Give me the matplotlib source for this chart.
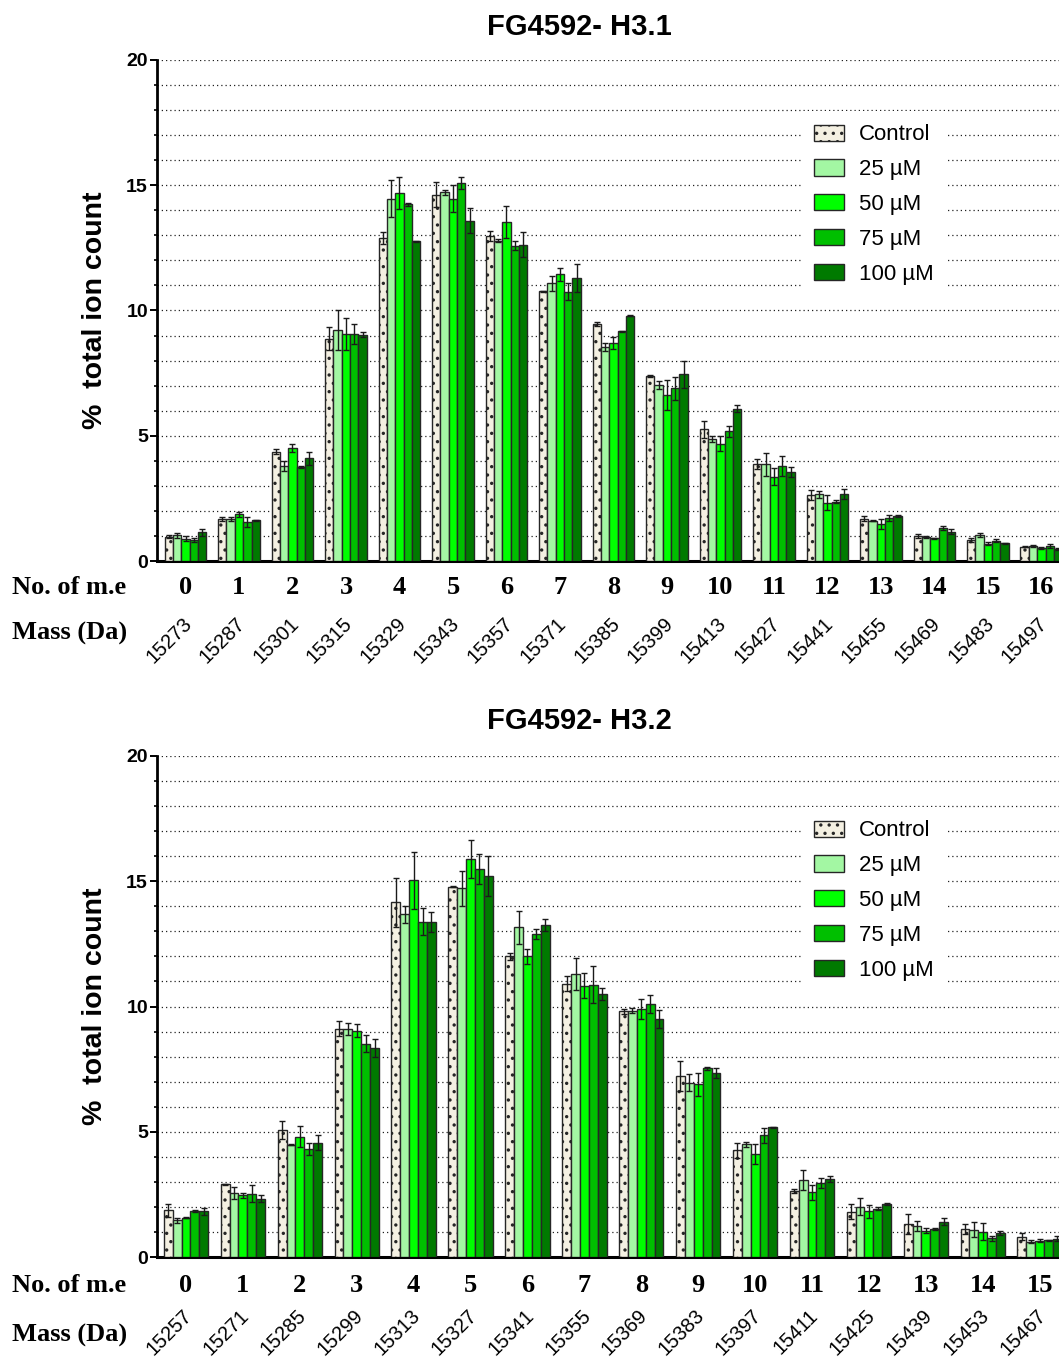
import numpy as np
import matplotlib
matplotlib.use("Agg")
import matplotlib.pyplot as plt
import matplotlib.transforms as mtransforms
from matplotlib.ticker import MultipleLocator

plt.rcParams["font.family"] = ["Liberation Sans", "DejaVu Sans"]
plt.rcParams["hatch.linewidth"] = 1.2

# ---------------- data ----------------
series_names = ["Control", "25 µM", "50 µM", "75 µM", "100 µM"]
series_colors = ["#f4f0e2", "#a3f7a3", "#00ff00", "#00bf00", "#007a00"]

# H3.1
h31_me = list(range(17))
h31_mass = ["15273", "15287", "15301", "15315", "15329", "15343", "15357", "15371",
            "15385", "15399", "15413", "15427", "15441", "15455", "15469", "15483", "15497"]
h31_control = [0.97, 1.69, 4.36, 8.88, 12.90, 14.63, 12.99, 10.76, 9.47, 7.39, 5.25, 3.86, 2.62, 1.68, 0.98, 0.84, 0.57]
h31_25 = [1.02, 1.68, 3.79, 9.22, 14.47, 14.72, 12.79, 11.08, 8.54, 7.02, 4.88, 3.86, 2.66, 1.61, 0.96, 1.03, 0.60]
h31_50 = [0.89, 1.86, 4.51, 9.07, 14.69, 14.47, 13.54, 11.44, 8.71, 6.62, 4.68, 3.37, 2.33, 1.48, 0.90, 0.69, 0.51]
h31_75 = [0.84, 1.57, 3.75, 9.07, 14.24, 15.09, 12.59, 10.75, 9.18, 6.89, 5.17, 3.81, 2.37, 1.70, 1.33, 0.81, 0.61]
h31_100 = [1.14, 1.62, 4.10, 9.04, 12.77, 13.59, 12.63, 11.30, 9.80, 7.45, 6.08, 3.57, 2.66, 1.80, 1.16, 0.70, 0.48]
h31_control_err = [0.07, 0.08, 0.10, 0.45, 0.25, 0.50, 0.20, 0.03, 0.07, 0.05, 0.35, 0.20, 0.20, 0.10, 0.08, 0.07, 0.03]
h31_25_err = [0.10, 0.08, 0.20, 0.80, 0.75, 0.10, 0.07, 0.30, 0.15, 0.15, 0.12, 0.45, 0.15, 0.03, 0.03, 0.07, 0.03]
h31_50_err = [0.10, 0.10, 0.15, 0.65, 0.65, 0.55, 0.65, 0.25, 0.25, 0.60, 0.30, 0.35, 0.30, 0.20, 0.02, 0.07, 0.05]
h31_75_err = [0.08, 0.20, 0.03, 0.40, 0.05, 0.25, 0.18, 0.35, 0.02, 0.45, 0.20, 0.40, 0.05, 0.12, 0.08, 0.05, 0.08]
h31_100_err = [0.15, 0.02, 0.25, 0.10, 0.02, 0.50, 0.50, 0.55, 0.02, 0.55, 0.15, 0.20, 0.20, 0.05, 0.10, 0.03, 0.05]

# H3.2
h32_me = list(range(16))
h32_mass = ["15257", "15271", "15285", "15299", "15313", "15327", "15341", "15355",
            "15369", "15383", "15397", "15411", "15425", "15439", "15453", "15467"]
h32_control = [1.86, 2.90, 5.07, 9.11, 14.16, 14.79, 12.00, 10.90, 9.82, 7.23, 4.27, 2.63, 1.80, 1.32, 1.13, 0.81]
h32_25 = [1.46, 2.55, 4.49, 9.11, 13.68, 14.72, 13.16, 11.30, 9.83, 6.96, 4.51, 3.07, 2.01, 1.24, 1.08, 0.61]
h32_50 = [1.57, 2.46, 4.81, 9.04, 15.03, 15.89, 12.00, 10.83, 9.89, 6.89, 4.11, 2.59, 1.82, 1.05, 1.01, 0.65]
h32_75 = [1.84, 2.53, 4.32, 8.52, 13.39, 15.49, 12.89, 10.87, 10.11, 7.53, 4.86, 2.94, 1.93, 1.11, 0.75, 0.66]
h32_100 = [1.82, 2.33, 4.57, 8.35, 13.36, 15.21, 13.25, 10.49, 9.50, 7.33, 5.18, 3.11, 2.12, 1.41, 0.95, 0.73]
h32_control_err = [0.25, 0.03, 0.35, 0.30, 0.97, 0.02, 0.15, 0.30, 0.10, 0.60, 0.30, 0.07, 0.30, 0.40, 0.20, 0.15]
h32_25_err = [0.10, 0.25, 0.02, 0.25, 0.35, 0.70, 0.65, 0.65, 0.10, 0.35, 0.10, 0.40, 0.35, 0.20, 0.30, 0.05]
h32_50_err = [0.03, 0.10, 0.40, 0.25, 1.15, 0.75, 0.30, 0.50, 0.40, 0.45, 0.40, 0.30, 0.25, 0.10, 0.35, 0.07]
h32_75_err = [0.05, 0.35, 0.25, 0.35, 0.55, 0.60, 0.20, 0.75, 0.35, 0.05, 0.30, 0.20, 0.05, 0.05, 0.10, 0.03]
h32_100_err = [0.15, 0.15, 0.30, 0.35, 0.40, 0.80, 0.25, 0.25, 0.35, 0.20, 0.02, 0.12, 0.05, 0.15, 0.08, 0.10]

# ---------------- figure ----------------
W, H = 1059, 1362
fig = plt.figure(figsize=(W / 100, H / 100), dpi=100)

BAR_W = 0.156
SERIF = ["Liberation Serif", "DejaVu Serif"]


def px_to_fig(y_px):
    return 1 - y_px / H


def draw_panel(top_px, bottom_px, xlim, title, me, masses, values, errors,
               title_y_px, num_off, mass_off, masslab_off):
    left_px = 157
    ax = fig.add_axes([left_px / W, px_to_fig(bottom_px),
                       (W - left_px) / W, (bottom_px - top_px) / H])
    x = np.arange(len(me))
    offsets = (np.arange(5) - 2) * BAR_W
    for k in range(5):
        ax.bar(x + offsets[k], values[k], width=BAR_W, color=series_colors[k],
               edgecolor="#262626", linewidth=1.0, hatch=".." if k == 0 else None,
               label=series_names[k], zorder=3)
        ax.errorbar(x + offsets[k], values[k], yerr=errors[k], fmt="none",
                    ecolor="#1a1a1a", elinewidth=1.0, capsize=2.0, capthick=1.0, zorder=4)

    ax.set_xlim(*xlim)
    ax.set_ylim(0, 20)
    ax.yaxis.set_major_locator(MultipleLocator(5))
    ax.yaxis.set_minor_locator(MultipleLocator(1))
    ax.grid(axis="y", which="both", linestyle=(0, (1, 2.4)), color="#222222",
            linewidth=0.9, zorder=0)
    ax.set_axisbelow(True)
    for s in ("top", "right"):
        ax.spines[s].set_visible(False)
    ax.spines["left"].set_linewidth(2.0)
    ax.spines["bottom"].set_linewidth(2.2)
    ax.tick_params(axis="y", which="major", length=5, width=1.4, pad=1.5,
                   labelsize=14)
    ax.tick_params(axis="y", which="minor", length=2.5, width=1.2)
    for lab in ax.get_yticklabels():
        lab.set_fontweight("bold")
    ax.set_xticks([])

    # row labels under the axis
    num_y = px_to_fig(bottom_px + num_off)
    mass_y = px_to_fig(bottom_px + mass_off)
    fig.text(12 / W, num_y, "No. of m.e", family=SERIF, fontweight="bold",
             fontsize=19, ha="left", va="center")
    fig.text(12 / W, px_to_fig(bottom_px + masslab_off), "Mass (Da)", family=SERIF,
             fontweight="bold", fontsize=19, ha="left", va="center")
    blend = mtransforms.blended_transform_factory(ax.transData, fig.transFigure)
    for xi, n, m in zip(x, me, masses):
        fig.text(xi, num_y, str(n), transform=blend, family=SERIF,
                 fontweight="bold", fontsize=19, ha="center", va="center")
        fig.text(xi + 0.06, mass_y, m, transform=blend, fontsize=14.5,
                 rotation=45, rotation_mode="anchor", ha="right", va="center")

    fig.text(579 / W, px_to_fig(title_y_px), title, fontsize=21,
             fontweight="bold", ha="center", va="center")
    fig.text(95 / W, px_to_fig((top_px + bottom_px) / 2), "%  total ion count",
             fontsize=20.5, fontweight="bold", rotation=90, ha="center", va="center")

    leg = ax.legend(loc="upper left", bbox_to_anchor=(790 / W, px_to_fig(top_px + 40)),
                    bbox_transform=fig.transFigure, frameon=True, fancybox=False,
                    framealpha=1, facecolor="white", edgecolor="none",
                    fontsize=16, handlelength=1.35, handleheight=0.75,
                    handletextpad=0.65, labelspacing=0.62, borderpad=0.6)
    leg.set_zorder(5)
    return ax


draw_panel(60, 561, (-0.533, 16.33), "FG4592- H3.1", h31_me, h31_mass,
           [h31_control, h31_25, h31_50, h31_75, h31_100],
           [h31_control_err, h31_25_err, h31_50_err, h31_75_err, h31_100_err],
           27, 26, 60, 72)
draw_panel(756, 1257, (-0.51, 15.34), "FG4592- H3.2", h32_me, h32_mass,
           [h32_control, h32_25, h32_50, h32_75, h32_100],
           [h32_control_err, h32_25_err, h32_50_err, h32_75_err, h32_100_err],
           721, 29, 56, 78)

fig.savefig("out.png", dpi=100)
